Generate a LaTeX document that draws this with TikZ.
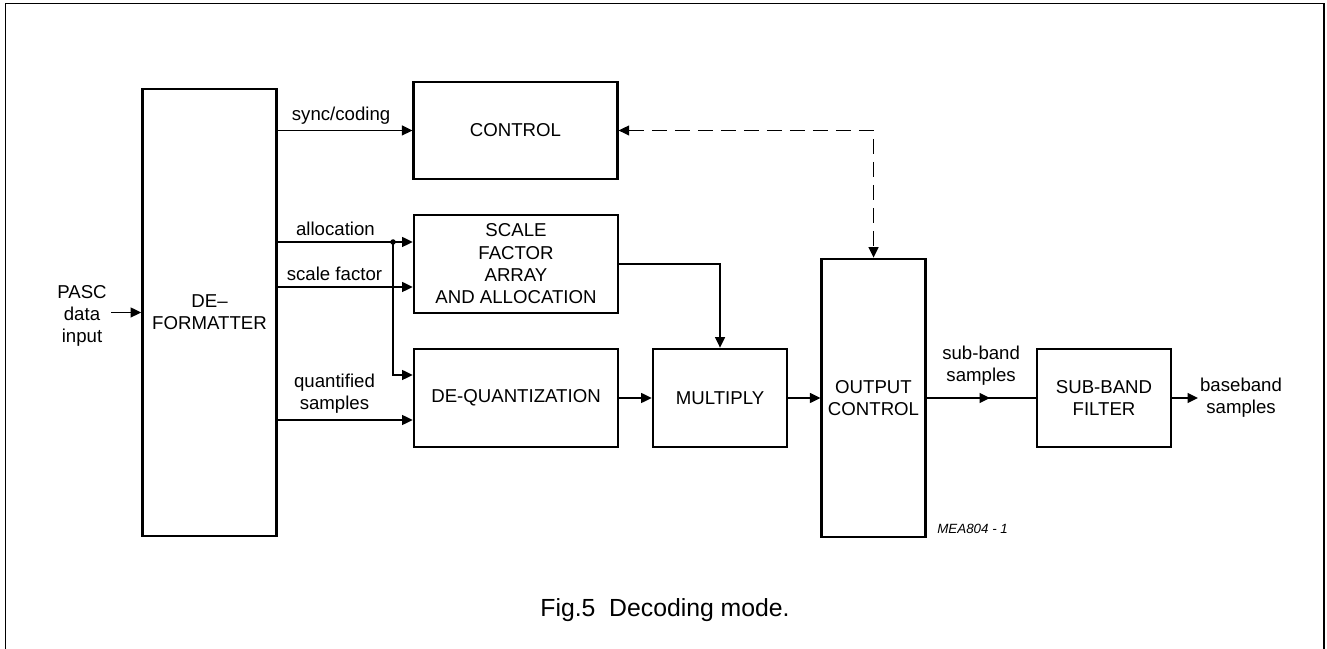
\documentclass[tikz,border=0pt]{standalone}
\usepackage{fontspec}
\setmainfont{Liberation Sans}
\usetikzlibrary{arrows.meta}

\begin{document}
\begin{tikzpicture}[
    block/.style={draw, line width=1.6pt, align=center, inner sep=0pt},
    wire/.style={line width=0.8pt},
    arr/.style={wire, -{Triangle[length=0.21cm, width=0.2cm]}},
    font=\fontsize{10.6}{12.7}\selectfont]
    \useasboundingbox (0,0) rectangle (26.54,12.96);

    % Outer frame (open at the bottom)
    \draw[line width=1.1pt] (0.11,-0.5) -- (0.11,12.89) -- (26.48,12.89) -- (26.48,-0.5);

    % Blocks
    \node[block, minimum width=2.68cm, minimum height=8.94cm] (deformatter) at (4.19,6.71) {DE–\\FORMATTER};
    \node[block, minimum width=4.07cm, minimum height=1.94cm] (control) at (10.31,10.35) {CONTROL};
    \node[block, minimum width=4.08cm, minimum height=1.96cm] (scale) at (10.32,7.68) {SCALE\\FACTOR\\ARRAY\\AND ALLOCATION};
    \node[block, minimum width=4.08cm, minimum height=1.96cm] (dequant) at (10.32,5.0) {DE-QUANTIZATION};
    \node[block, minimum width=2.68cm, minimum height=1.96cm] (multiply) at (14.4,5.0) {MULTIPLY};
    \node[block, minimum width=2.07cm, minimum height=5.56cm] (output) at (17.47,5.0) {OUTPUT\\CONTROL};
    \node[block, minimum width=2.68cm, minimum height=1.96cm] (subband) at (22.08,5.0) {SUB-BAND\\FILTER};

    % Free texts
    \node[align=center, inner sep=2.5pt] (pasc) at (1.64,6.64) {PASC\\data\\input};
    \node[align=center, anchor=west, inner sep=1pt] (baseband) at (23.96,5.0) {baseband\\samples};
    \node[font=\fontsize{7.6}{9}\selectfont\itshape, anchor=west, inner sep=0pt] (code) at (18.74,2.38) {MEA804 - 1};
    \node[font=\fontsize{14.1}{17}\selectfont] (caption) at (13.3,0.76) {Fig.5~~Decoding mode.};

    % Input
    \draw[arr] (pasc.east |- deformatter.west) -- (deformatter.west);

    % Outputs of the de-formatter
    \coordinate (branch) at (7.86,8.12);
    \coordinate (sfin) at ([yshift=-0.46cm]scale.west);
    \coordinate (qsin) at ([yshift=-0.44cm]dequant.west);
    \draw[arr] (deformatter.east |- control.west) -- node[pos=0.47, above] {sync/coding} (control.west);
    \draw[wire] (deformatter.east |- branch) -- node[above] {allocation} (branch);
    \draw[arr] (branch) -- (branch -| scale.west);
    \draw[arr] (branch) |- ([yshift=0.46cm]dequant.west);
    \fill (branch) circle (0.055);
    \draw[arr] (deformatter.east |- sfin) -- node[pos=0.42, above] {scale factor} (sfin);
    \draw[arr] (deformatter.east |- qsin) -- node[pos=0.42, above, align=center] {quantified\\samples} (qsin);

    % Data path
    \draw[arr] (scale.east) -| (multiply.north);
    \draw[arr] (dequant.east) -- (multiply.west);
    \draw[arr] (multiply.east) -- (output.west);
    \draw[wire, dash pattern=on 0.3cm off 0.16cm, {Triangle[length=0.21cm, width=0.2cm]}-{Triangle[length=0.21cm, width=0.2cm]}] (control.east) -| (output.north);

    % Sub-band samples, arrow tip in the middle of the line
    \coordinate (sbmid) at (19.8,5.0);
    \draw[wire] (output.east) -- node[above, yshift=0.12cm, align=center] {sub-band\\samples} (subband.west);
    \draw[arr] (output.east) -- (sbmid);
    \draw[arr] (subband.east) -- (baseband.west);
\end{tikzpicture}
\end{document}
